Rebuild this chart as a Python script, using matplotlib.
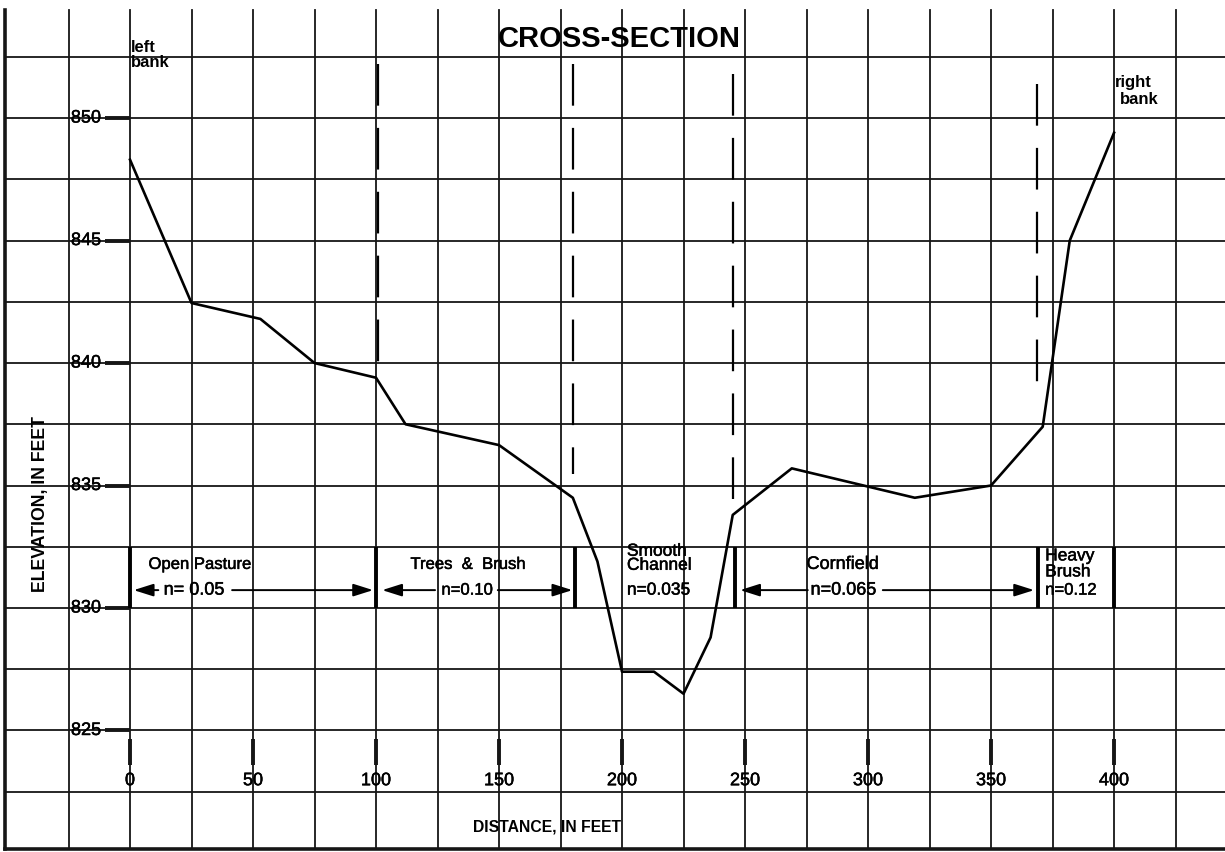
import numpy as np
import matplotlib.pyplot as plt
import matplotlib.patheffects as pe

plt.rcParams['font.family'] = ['Liberation Sans', 'DejaVu Sans']
plt.rcParams['lines.scale_dashes'] = False

# ground profile across the valley (ft)
distance = [0, 25, 53, 75, 100, 112, 150, 180, 190, 200, 213, 225, 236, 245, 269, 319, 350, 371, 382, 400]
elevation = [848.3, 842.45, 841.8, 840.0, 839.4, 837.5, 836.65, 834.5, 831.9, 827.4, 827.4, 826.5,
             828.8, 833.8, 835.7, 834.5, 835.0, 837.4, 845.0, 849.4]

x_ticks = [0, 50, 100, 150, 200, 250, 300, 350, 400]
y_ticks = [825, 830, 835, 840, 845, 850]

# roughness sub-areas
zone_edges = [0, 100, 181, 246, 369, 400]
zone_names = ['Open Pasture', 'Trees  &  Brush', 'Smooth\nChannel', 'Cornfield', 'Heavy\nBrush']
zone_n = ['n= 0.05', 'n=0.10', 'n=0.035', 'n=0.065', 'n=0.12']

# dashed sub-area boundaries
dash_x = [100.8, 180, 245, 368.5]
dash_top = [852.2, 852.2, 851.8, 851.4]
dash_bottom = [839.2, 835.45, 834.4, 838.45]

fig = plt.figure(figsize=(12.25, 8.53), dpi=100)
ax = fig.add_axes([0, 0, 1, 1])
ax.set_xlim(-52.85, 445.1)
ax.set_ylim(820.04, 854.86)
ax.axis('off')

x_left, x_right = -51, 445.1
y_bot, y_top = 820.15, 854.4
ink = '#161616'
medium = [pe.withStroke(linewidth=0.35, foreground='black')]  # printed type looks heavier than regular

# graph paper
for gx in np.arange(-25, 426, 25):
    ax.plot([gx, gx], [y_bot, y_top], color=ink, lw=1.3, zorder=1)
for gy in np.arange(822.5, 853, 2.5):
    ax.plot([x_left, x_right], [gy, gy], color=ink, lw=1.3, zorder=1)
ax.plot([x_left, x_left], [y_bot, y_top], color=ink, lw=2.6, zorder=2)
ax.plot([x_left, x_right], [y_bot, y_bot], color=ink, lw=2.6, zorder=2)

# ticks and labels
ax.hlines(y_ticks, -10, 0, color=ink, lw=2.8, zorder=3)
for yt in y_ticks:
    ax.text(-11.8, yt, str(yt), ha='right', va='center', fontsize=13, zorder=4, path_effects=medium)
ax.vlines(x_ticks, 823.6, 824.65, color=ink, lw=2.8, zorder=3)
for xt in x_ticks:
    ax.text(xt, 822.95, str(xt), ha='center', va='center', fontsize=13, zorder=4, path_effects=medium)

# profile
ax.plot(distance, elevation, color='black', lw=1.9, zorder=5)

# sub-area boundaries (dashes start from the top)
for dx, dt, db in zip(dash_x, dash_top, dash_bottom):
    ax.plot([dx, dx], [dt, db], color='black', lw=1.6, linestyle=(0, (30, 16)), zorder=4)
ax.vlines(zone_edges, 830, 832.5, color='black', lw=2.8, zorder=4)

# zone labels
lab_y, n_y = 831.78, 830.73
ax.text(7.5, lab_y, zone_names[0], ha='left', va='center', fontsize=12, path_effects=medium)
ax.text(114, lab_y, zone_names[1], ha='left', va='center', fontsize=12, path_effects=medium)
ax.text(202, 832.03, zone_names[2], ha='left', va='center', fontsize=12.5, linespacing=0.92,
        path_effects=medium)
ax.text(275, lab_y, zone_names[3], ha='left', va='center', fontsize=13, path_effects=medium)
ax.text(372, 831.8, zone_names[4], ha='left', va='center', fontsize=12.5, linespacing=1.08,
        path_effects=medium)

n_pos = [26, 137, 202, 290, 372]
n_ha = ['center', 'center', 'left', 'center', 'left']
n_size = [13, 12, 12.5, 13, 12]
for nx, ha, txt, fs in zip(n_pos, n_ha, zone_n, n_size):
    ax.text(nx, n_y, txt, ha=ha, va='center', fontsize=fs, path_effects=medium)

arrow = dict(arrowstyle='-|>,head_length=1.2,head_width=0.38', color='black', lw=1.4,
             shrinkA=0, shrinkB=0)
for start, end in [(11.5, 1.5), (41.5, 98.8), (124, 102.5), (149.5, 179.8), (275.5, 248), (306, 367.5)]:
    ax.annotate('', xy=(end, n_y), xytext=(start, n_y), arrowprops=arrow, zorder=4)

# titles and notes
ax.text(199, 853.25, 'CROSS-SECTION', ha='center', va='center', fontsize=21, fontweight='bold')
ax.text(0.5, 852.62, 'left\nbank', ha='left', va='center', fontsize=12, fontweight='bold', linespacing=0.95)
ax.text(400.5, 851.5, 'right', ha='left', va='center', fontsize=12, fontweight='bold')
ax.text(402.5, 850.78, 'bank', ha='left', va='center', fontsize=12, fontweight='bold')
ax.text(-36.5, 834.3, 'ELEVATION, IN FEET', rotation=90, ha='center', va='center',
        fontsize=12.7, fontweight='bold')
ax.text(169.5, 821.1, 'DISTANCE, IN FEET', ha='center', va='center', fontsize=11.3, fontweight='bold')

fig.savefig('out.png', dpi=100, facecolor='white')
